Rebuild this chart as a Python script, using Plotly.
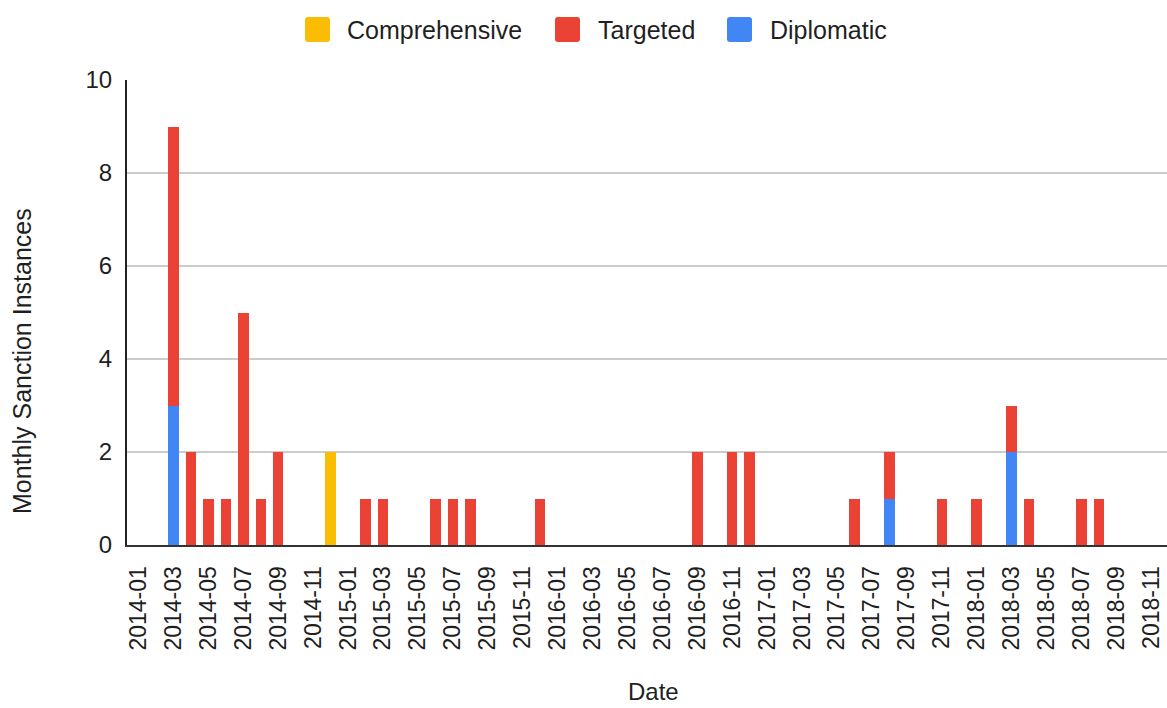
import plotly.graph_objects as go

# Month categories on the x axis
years = [2014, 2015, 2016, 2017, 2018]
months = [f"{y}-{m:02d}" for y in years for m in range(1, 13)]
months = months[:months.index("2018-11") + 1]
tick_labels = months[::2]

# Monthly counts per sanction type
comprehensive_months = ["2014-12"]
comprehensive_counts = [2]

targeted_months = ["2014-03", "2014-04", "2014-05", "2014-06", "2014-07", "2014-08",
                   "2014-09", "2015-02", "2015-03", "2015-06", "2015-07", "2015-08",
                   "2015-12", "2016-09", "2016-11", "2016-12", "2017-06", "2017-08",
                   "2017-11", "2018-01", "2018-03", "2018-04", "2018-07", "2018-08"]
targeted_counts = [6, 2, 1, 1, 5, 1,
                   2, 1, 1, 1, 1, 1,
                   1, 2, 2, 2, 1, 1,
                   1, 1, 1, 1, 1, 1]

diplomatic_months = ["2014-03", "2017-08", "2018-03"]
diplomatic_counts = [3, 1, 2]

series_names = ["Comprehensive", "Targeted", "Diplomatic"]
series_colors = ["#FBBC04", "#EA4335", "#4285F4"]

FONT = "Arial, 'Liberation Sans', sans-serif"
TEXT = "#1f1f1f"
W, H = 1167, 708
L, R, T, B = 127, 0, 80, 163
plot_w = W - L - R
plot_h = H - T - B


def px_to_paper(px, py):
    return (px - L) / plot_w, (H - B - py) / plot_h


def rounded_square(x0px, y0px, size, r):
    """SVG path (paper coords) for a square swatch with rounded corners."""
    pts = []
    x1px, y1px = x0px + size, y0px + size

    def p(x, y):
        a, b = px_to_paper(x, y)
        return f"{a:.5f},{b:.5f}"

    return (f"M {p(x0px + r, y0px)} L {p(x1px - r, y0px)} Q {p(x1px, y0px)} {p(x1px, y0px + r)} "
            f"L {p(x1px, y1px - r)} Q {p(x1px, y1px)} {p(x1px - r, y1px)} "
            f"L {p(x0px + r, y1px)} Q {p(x0px, y1px)} {p(x0px, y1px - r)} "
            f"L {p(x0px, y0px + r)} Q {p(x0px, y0px)} {p(x0px + r, y0px)} Z")


fig = go.Figure()
# stacking order: diplomatic at the base, targeted above
fig.add_trace(go.Bar(x=diplomatic_months, y=diplomatic_counts, name="Diplomatic",
                     marker=dict(color=series_colors[2], line=dict(width=0)),
                     showlegend=False))
fig.add_trace(go.Bar(x=targeted_months, y=targeted_counts, name="Targeted",
                     marker=dict(color=series_colors[1], line=dict(width=0)),
                     showlegend=False))
fig.add_trace(go.Bar(x=comprehensive_months, y=comprehensive_counts, name="Comprehensive",
                     marker=dict(color=series_colors[0], line=dict(width=0)),
                     showlegend=False))

# legend row drawn as swatches plus labels
legend_x = [305, 555, 727]
text_x = [347, 598, 770]
shapes = []
annotations = []
for name, color, sx, tx in zip(series_names, series_colors, legend_x, text_x):
    shapes.append(dict(type="path", xref="paper", yref="paper",
                       path=rounded_square(sx, 17, 25, 3),
                       fillcolor=color, line=dict(width=0), layer="above"))
    ax, ay = px_to_paper(tx - 2, 30)
    annotations.append(dict(xref="paper", yref="paper", x=ax, y=ay, text=name,
                            showarrow=False, xanchor="left", yanchor="middle",
                            font=dict(family=FONT, size=25, color=TEXT)))

# axis titles
ax, ay = px_to_paper(22, 361)
annotations.append(dict(xref="paper", yref="paper", x=ax, y=ay, text="Monthly Sanction Instances",
                        textangle=-90, showarrow=False, xanchor="center", yanchor="middle",
                        font=dict(family=FONT, size=25, color=TEXT)))
ax, ay = px_to_paper(653, 707)
annotations.append(dict(xref="paper", yref="paper", x=ax, y=ay, text="Date",
                        showarrow=False, xanchor="center", yanchor="bottom",
                        font=dict(family=FONT, size=24, color=TEXT)))

fig.update_layout(
    width=W, height=H,
    margin=dict(l=L, r=R, t=T, b=B, pad=0),
    paper_bgcolor="white", plot_bgcolor="white",
    barmode="stack", bargap=0.4,
    showlegend=False,
    shapes=shapes, annotations=annotations,
    font=dict(family=FONT, size=23, color=TEXT),
)
fig.update_xaxes(
    type="category", categoryorder="array", categoryarray=months,
    range=[-0.66, 58.9],
    tickmode="array", tickvals=tick_labels, ticktext=tick_labels,
    tickangle=-90, ticklabelstandoff=10,
    showgrid=False, showline=True, linecolor="#333333", linewidth=2,
    tickfont=dict(family=FONT, size=23, color=TEXT),
)
fig.update_yaxes(
    range=[0, 10], tickvals=[0, 2, 4, 6, 8, 10],
    showgrid=True, gridcolor="#cccccc", gridwidth=1.5,
    zeroline=False, showline=True, linecolor="#222222", linewidth=2,
    ticklabelstandoff=8,
    tickfont=dict(family=FONT, size=24, color=TEXT),
)

fig.write_html("out.html")
